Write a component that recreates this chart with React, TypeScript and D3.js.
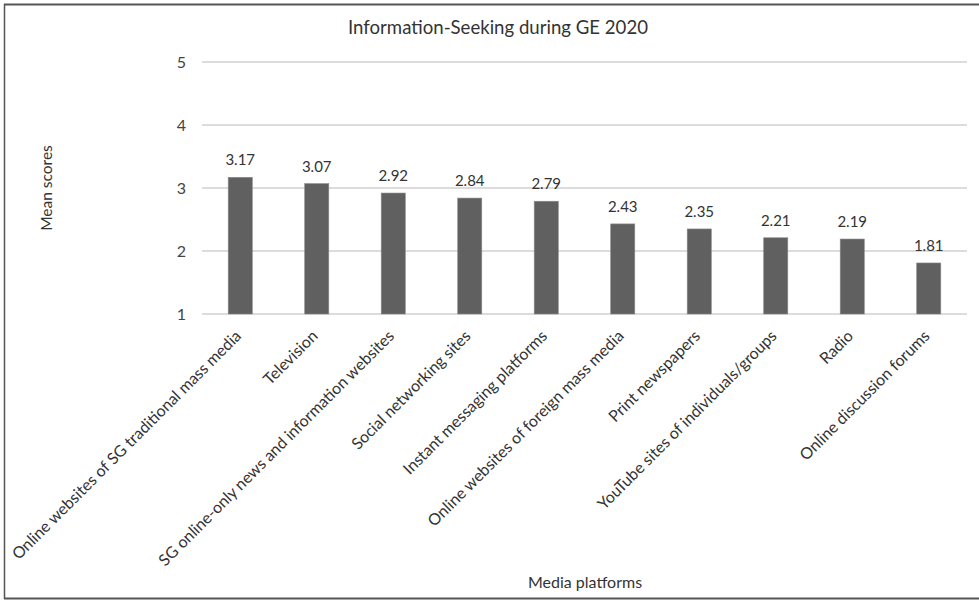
import React from "react";
import * as d3 from "d3";

const categories = [
  "Online websites of SG traditional mass media",
  "Television",
  "SG online-only news and information websites",
  "Social networking sites",
  "Instant messaging platforms",
  "Online websites of foreign mass media",
  "Print newspapers",
  "YouTube sites of individuals/groups",
  "Radio",
  "Online discussion forums",
];
const values = [3.17, 3.07, 2.92, 2.84, 2.79, 2.43, 2.35, 2.21, 2.19, 1.81];
const yTicks = [1, 2, 3, 4, 5];

const W = 979;
const H = 600;
const FONT = "Lato, 'Open Sans', sans-serif";

export default function App() {
  const x = d3.scaleBand<string>().domain(categories).range([202, 967]).paddingInner(0.685).paddingOuter(0.3425);
  const band = d3.scaleBand<string>().domain(categories).range([202, 967]);
  const y = d3.scaleLinear().domain([1, 5]).range([314, 62]);

  return (
    <div style={{ position: "absolute", left: 0, top: 0 }}>
      <svg width={W} height={H} style={{ display: "block", background: "#fff" }}>
        <rect x={0} y={0} width={W} height={H} fill="#fff" />
        {/* border */}
        <line x1={4.5} y1={4} x2={4.5} y2={599} stroke="#555" strokeWidth={1.5} />
        <line x1={4} y1={4.5} x2={979} y2={4.5} stroke="#555" strokeWidth={2} />
        <line x1={4} y1={598.5} x2={979} y2={598.5} stroke="#555" strokeWidth={2} />

        <text x={498} y={34} textAnchor="middle" fontFamily={FONT} fontSize={18.6} fill="#333">
          Information-Seeking during GE 2020
        </text>

        {yTicks.map((t) => (
          <g key={t}>
            <line x1={202} x2={967} y1={y(t)} y2={y(t)} stroke="#d0d0d0" strokeWidth={1.5} />
            <text x={186} y={y(t) + 5.5} textAnchor="end" fontFamily={FONT} fontSize={16} fill="#444">
              {t}
            </text>
          </g>
        ))}

        {categories.map((c, i) => {
          const cx = (band(c) as number) + band.bandwidth() / 2;
          return (
            <g key={c}>
              <rect
                x={x(c) as number}
                y={y(values[i])}
                width={x.bandwidth()}
                height={y(1) - y(values[i])}
                fill="#606060"
                stroke="#8a8a8a"
                strokeWidth={0.6}
              />
              <text x={cx} y={y(values[i]) - 12} textAnchor="middle" fontFamily={FONT} fontSize={15} fill="#333">
                {values[i].toFixed(2)}
              </text>
              <text
                transform={`translate(${cx + 2},${337}) rotate(-45)`}
                textAnchor="end"
                fontFamily={FONT}
                fontSize={16}
                fill="#333"
              >
                {c}
              </text>
            </g>
          );
        })}

        <text
          transform={`translate(52,188) rotate(-90)`}
          textAnchor="middle"
          fontFamily={FONT}
          fontSize={15.5}
          fill="#333"
        >
          Mean scores
        </text>
        <text x={585} y={588} textAnchor="middle" fontFamily={FONT} fontSize={16} fill="#333">
          Media platforms
        </text>
      </svg>
    </div>
  );
}
